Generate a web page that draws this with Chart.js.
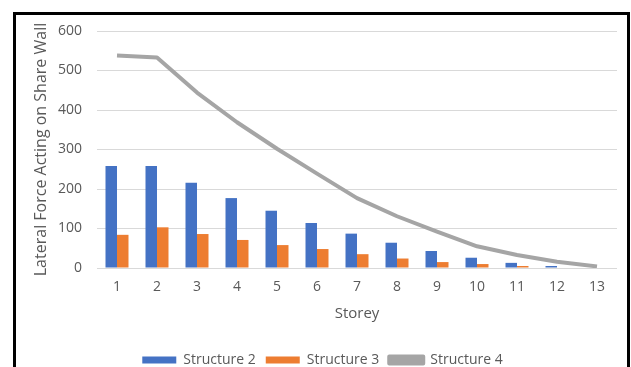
<!DOCTYPE html>
<html><head><meta charset="utf-8">
<script src="https://cdn.jsdelivr.net/npm/chart.js@4.4.1/dist/chart.umd.min.js"></script>
<style>
html,body{margin:0;padding:0;background:#fff;overflow:hidden;width:631px;height:367px;}
#frame{position:absolute;left:13px;top:12px;width:617px;height:400px;border:3px solid #000;box-sizing:border-box;pointer-events:none;}
canvas{position:absolute;left:0;top:0;}
</style></head><body>
<canvas id="c" width="631" height="377"></canvas>
<div id="frame"></div>
<script>
const storeys = ['1','2','3','4','5','6','7','8','9','10','11','12','13'];
const structure2 = [258,258,216,177,145,114,87,64,43,26,13,5,0];
const structure3 = [84,103,86,71,58,48,35,24,15,10,5,0,0];
const structure4 = [538,533,444,369,302,239,177,131,92,55,33,16,4];
const seriesNames = ['Structure 2','Structure 3','Structure 4'];
const yAxisTitle = 'Lateral Force Acting on Share Wall';
const xAxisTitle = 'Storey';

const FONT = "'Open Sans', 'Liberation Sans', sans-serif";
const TXT = '#595959';
Chart.defaults.font.family = FONT;
Chart.defaults.color = TXT;

new Chart(document.getElementById('c'), {
  type: 'bar',
  data: {
    labels: storeys,
    datasets: [
      {label: seriesNames[0], data: structure2, backgroundColor: '#4472C4', borderWidth: 0,
       categoryPercentage: 0.575, barPercentage: 1},
      {label: seriesNames[1], data: structure3, backgroundColor: '#ED7D31', borderWidth: 0,
       categoryPercentage: 0.575, barPercentage: 1},
      {label: seriesNames[2], data: structure4, type: 'line', borderColor: '#A5A5A5',
       backgroundColor: '#A5A5A5', borderWidth: 4, pointRadius: 0, tension: 0, order: -1,
       borderCapStyle: 'butt', borderJoinStyle: 'round'}
    ]
  },
  options: {
    responsive: false,
    animation: false,
    devicePixelRatio: 1,
    layout: {padding: {left: 28, right: 14, top: 31, bottom: 0}},
    plugins: {
      tooltip: {enabled: false},
      legend: {
        position: 'bottom',
        labels: {boxWidth: 34, boxHeight: 7, padding: 10, font: {size: 14}, color: TXT,
                 sort: (a, b) => a.datasetIndex - b.datasetIndex}
      }
    },
    scales: {
      x: {
        grid: {display: false, drawTicks: false},
        border: {display: false},
        ticks: {padding: 11, font: {size: 14}, color: TXT, maxRotation: 0},
        title: {display: true, text: xAxisTitle, font: {size: 15}, color: TXT, padding: {top: 4, bottom: 20}},
        afterFit: s => { s.height = 75; }
      },
      y: {
        min: 0, max: 600,
        grid: {color: '#D9D9D9', lineWidth: 1, drawTicks: false},
        border: {display: false},
        ticks: {stepSize: 100, padding: 15, font: {size: 14}, color: TXT},
        title: {display: true, text: yAxisTitle, font: {size: 16}, color: TXT, padding: {top: 4, bottom: 0}},
        afterFit: s => { s.width = 97 - 28; }
      }
    }
  }
});
</script>
</body></html>
